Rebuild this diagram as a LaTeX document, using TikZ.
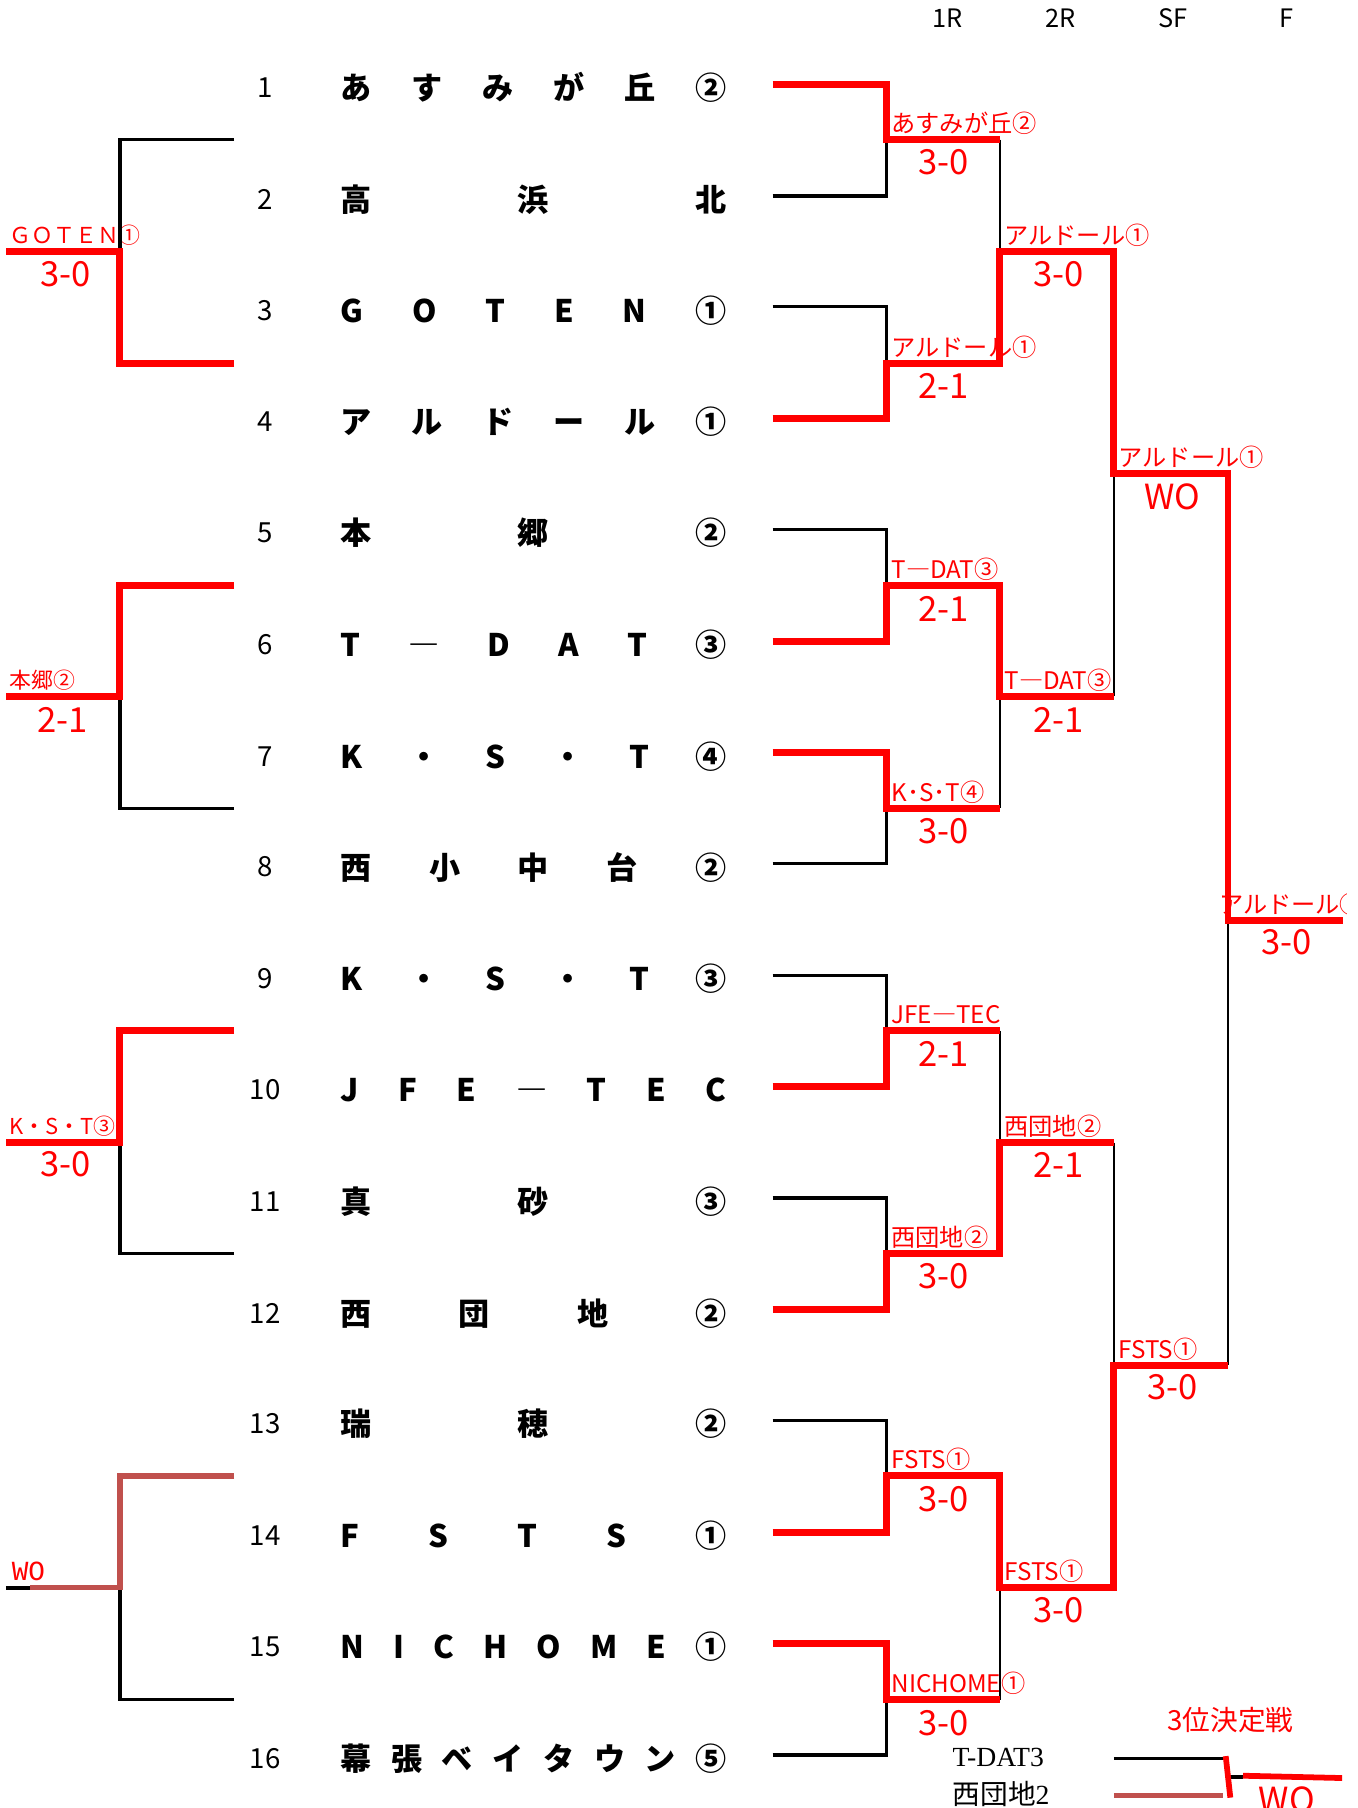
\documentclass[tikz,border=0pt]{standalone}
\usepackage{fontspec}
\setmainfont{Noto Sans CJK JP}
\newfontfamily\serifjp{Liberation Serif}
\newfontfamily\monojp{Liberation Mono}
\definecolor{wored}{HTML}{C0504D}
\newcommand{\spreadname}[1]{\hbox to 335pt{#1}}

\begin{document}
\begin{tikzpicture}[
  x=1pt, y=-1pt,
  num/.style={font=\fontsize{24}{24}\selectfont, inner sep=0pt},
  team/.style={font=\fontsize{27}{27}\selectfont\bfseries, inner sep=0pt, anchor=west},
  hdr/.style={font=\fontsize{22}{22}\selectfont, inner sep=0pt},
  res/.style={font=\fontsize{21}{21}\selectfont, text=red, inner sep=0pt, anchor=west},
  lres/.style={font=\fontsize{19}{19}\selectfont, text=red, inner sep=0pt, anchor=west},
  score/.style={font=\fontsize{30}{30}\selectfont, text=red, inner sep=0pt},
  lose/.style={line width=3pt},
  lvert/.style={line width=2pt},
  win/.style={line width=6pt, red, line join=miter},
  wo/.style={line width=4.5pt, wored},
]
  \useasboundingbox (0,0) rectangle (1177,1568);

  % Round headers
  \node[hdr] (h1) at (822,16) {1R};
  \node[hdr] (h2) at (920,16) {2R};
  \node[hdr] (h3) at (1017,16) {SF};
  \node[hdr] (h4) at (1116,16) {F};

  % Draw numbers and entries
  \node[num] (n1) at (230,76) {1};
  \node[team] (t1) at (295,76) {\spreadname{あ\hfill す\hfill み\hfill が\hfill 丘\hfill ②}};
  \node[num] (n2) at (230,173) {2};
  \node[team] (t2) at (295,173) {\spreadname{高\hfill 浜\hfill 北}};
  \node[num] (n3) at (230,269) {3};
  \node[team] (t3) at (295,269) {\spreadname{G\hfill O\hfill T\hfill E\hfill N\hfill ①}};
  \node[num] (n4) at (230,366) {4};
  \node[team] (t4) at (295,366) {\spreadname{ア\hfill ル\hfill ド\hfill ー\hfill ル\hfill ①}};
  \node[num] (n5) at (230,462) {5};
  \node[team] (t5) at (295,462) {\spreadname{本\hfill 郷\hfill ②}};
  \node[num] (n6) at (230,559) {6};
  \node[team] (t6) at (295,559) {\spreadname{T\hfill ―\hfill D\hfill A\hfill T\hfill ③}};
  \node[num] (n7) at (230,656) {7};
  \node[team] (t7) at (295,656) {\spreadname{K\hfill ・\hfill S\hfill ・\hfill T\hfill ④}};
  \node[num] (n8) at (230,752) {8};
  \node[team] (t8) at (295,752) {\spreadname{西\hfill 小\hfill 中\hfill 台\hfill ②}};
  \node[num] (n9) at (230,849) {9};
  \node[team] (t9) at (295,849) {\spreadname{K\hfill ・\hfill S\hfill ・\hfill T\hfill ③}};
  \node[num] (n10) at (230,945) {10};
  \node[team] (t10) at (295,945) {\spreadname{J\hfill F\hfill E\hfill ―\hfill T\hfill E\hfill C}};
  \node[num] (n11) at (230,1042) {11};
  \node[team] (t11) at (295,1042) {\spreadname{真\hfill 砂\hfill ③}};
  \node[num] (n12) at (230,1139) {12};
  \node[team] (t12) at (295,1139) {\spreadname{西\hfill 団\hfill 地\hfill ②}};
  \node[num] (n13) at (230,1235) {13};
  \node[team] (t13) at (295,1235) {\spreadname{瑞\hfill 穂\hfill ②}};
  \node[num] (n14) at (230,1332) {14};
  \node[team] (t14) at (295,1332) {\spreadname{F\hfill S\hfill T\hfill S\hfill ①}};
  \node[num] (n15) at (230,1428) {15};
  \node[team] (t15) at (295,1428) {\spreadname{N\hfill I\hfill C\hfill H\hfill O\hfill M\hfill E\hfill ①}};
  \node[num] (n16) at (230,1525) {16};
  \node[team] (t16) at (295,1525) {\spreadname{幕\hfill 張\hfill ベ\hfill イ\hfill タ\hfill ウ\hfill ン\hfill ⑤}};

  % Results, first round
  \node[res] (r1) at (773,107) {あすみが丘②};
  \node[score] (s1) at (818,141) {3-0};
  \node[res] (r2) at (773,301) {アルドール①};
  \node[score] (s2) at (818,335) {2-1};
  \node[res] (r3) at (773,494) {T―DAT③};
  \node[score] (s3) at (818,528) {2-1};
  \node[res] (r4) at (773,687) {K･S･T④};
  \node[score] (s4) at (818,721) {3-0};
  \node[res] (r5) at (773,880) {JFE―TEC};
  \node[score] (s5) at (818,914) {2-1};
  \node[res] (r6) at (773,1073) {西団地②};
  \node[score] (s6) at (818,1107) {3-0};
  \node[res] (r7) at (773,1266) {FSTS①};
  \node[score] (s7) at (818,1300) {3-0};
  \node[res] (r8) at (773,1460) {NICHOME①};
  \node[score] (s8) at (818,1494) {3-0};

  % Results, second round, semis, final
  \node[res] (q1) at (871,204) {アルドール①};
  \node[score] (sq1) at (918,238) {3-0};
  \node[res] (q2) at (871,590) {T―DAT③};
  \node[score] (sq2) at (918,624) {2-1};
  \node[res] (q3) at (871,977) {西団地②};
  \node[score] (sq3) at (918,1010) {2-1};
  \node[res] (q4) at (871,1363) {FSTS①};
  \node[score] (sq4) at (918,1396) {3-0};
  \node[res] (sf1) at (970,397) {アルドール①};
  \node[score] (ssf1) at (1017,431) {WO};
  \node[res] (sf2) at (970,1170) {FSTS①};
  \node[score] (ssf2) at (1017,1203) {3-0};
  \begin{scope}
    \clip (1000,760) rectangle (1168,800);
    \node[res] (fin) at (1057,784) {アルドール①};
  \end{scope}
  \node[score] (sfin) at (1116,817) {3-0};

  % Left-hand side results
  \node[lres] (l1) at (8,204) {ＧＯＴＥＮ①};
  \node[score] (ls1) at (57,238) {3-0};
  \node[lres] (l2) at (8,590) {本郷②};
  \node[score] (ls2) at (54,624) {2-1};
  \node[lres] (l3) at (8,977) {K・S・T③};
  \node[score] (ls3) at (57,1010) {3-0};
  \node[font=\monojp\fontsize{24}{24}\selectfont, text=red, inner sep=0pt, anchor=west] (l4) at (10,1363) {WO};

  % Third place match
  \node[font=\fontsize{24}{24}\selectfont, text=red, inner sep=0pt] (p3) at (1067,1492) {3位決定戦};
  \node[font=\serifjp\fontsize{24}{24}\selectfont, inner sep=0pt, anchor=west] (p3a) at (826,1524) {T-DAT3};
  \node[font=\fontsize{24}{24}\selectfont, inner sep=0pt, anchor=west] (p3b) at (826,1556) {西団地{\serifjp 2}};
  \node[score] (sp3) at (1116,1561) {WO};

  % Right bracket, losing sides
  \draw[lose] (670,170) -| (769,121);
  \draw[lose] (670,266) -| (769,315);
  \draw[lose] (670,459) -| (769,508);
  \draw[lose] (670,749) -| (769,701);
  \draw[lose] (670,846) -| (769,894);
  \draw[lose] (670,1039) -| (769,1087);
  \draw[lose] (670,1232) -| (769,1280);
  \draw[lose] (670,1522) -| (769,1474);
  \draw[lvert] (867,121) -- (867,218);
  \draw[lvert] (867,701) -- (867,604);
  \draw[lvert] (867,894) -- (867,991);
  \draw[lvert] (867,1474) -- (867,1377);
  \draw[lvert] (966,604) -- (966,411);
  \draw[lvert] (966,991) -- (966,1184);
  \draw[lvert] (1065,1184) -- (1065,798);

  % Right bracket, winning routes
  \draw[win] (670,73) -| (769,121) -- (867,121);
  \draw[win] (670,363) -| (769,315) -| (867,218) -| (966,411) -| (1065,798) -- (1165,798);
  \draw[win] (670,556) -| (769,508) -| (867,604) -- (966,604);
  \draw[win] (670,653) -| (769,701) -- (867,701);
  \draw[win] (670,942) -| (769,894) -- (867,894);
  \draw[win] (670,1136) -| (769,1087) -| (867,991) -- (966,991);
  \draw[win] (670,1329) -| (769,1280) -| (867,1377) -| (966,1184) -- (1065,1184);
  \draw[win] (670,1425) -| (769,1474) -- (867,1474);

  % Left bracket
  \draw[lose] (203,121) -| (104,218);
  \draw[win] (203,315) -| (104,218) -- (5,218);
  \draw[lose] (203,701) -| (104,604);
  \draw[win] (203,508) -| (104,604) -- (5,604);
  \draw[lose] (203,1087) -| (104,991);
  \draw[win] (203,894) -| (104,991) -- (5,991);
  \draw[lose] (203,1474) -| (104,1377);
  \draw[lose] (5,1377) -- (26,1377);
  \draw[wo] (203,1280) -| (104,1377) -- (26,1377);

  % Third place lines
  \draw[lose] (966,1525) -- (1065,1525);
  \draw[wo] (966,1557) -- (1061,1557);
  \draw[lose] (1065,1541) -- (1078,1541);
  \draw[line width=5pt, red] (1063,1523) -- (1067,1559);
  \draw[line width=5pt, red] (1078,1540) -- (1164,1542);
\end{tikzpicture}
\end{document}
